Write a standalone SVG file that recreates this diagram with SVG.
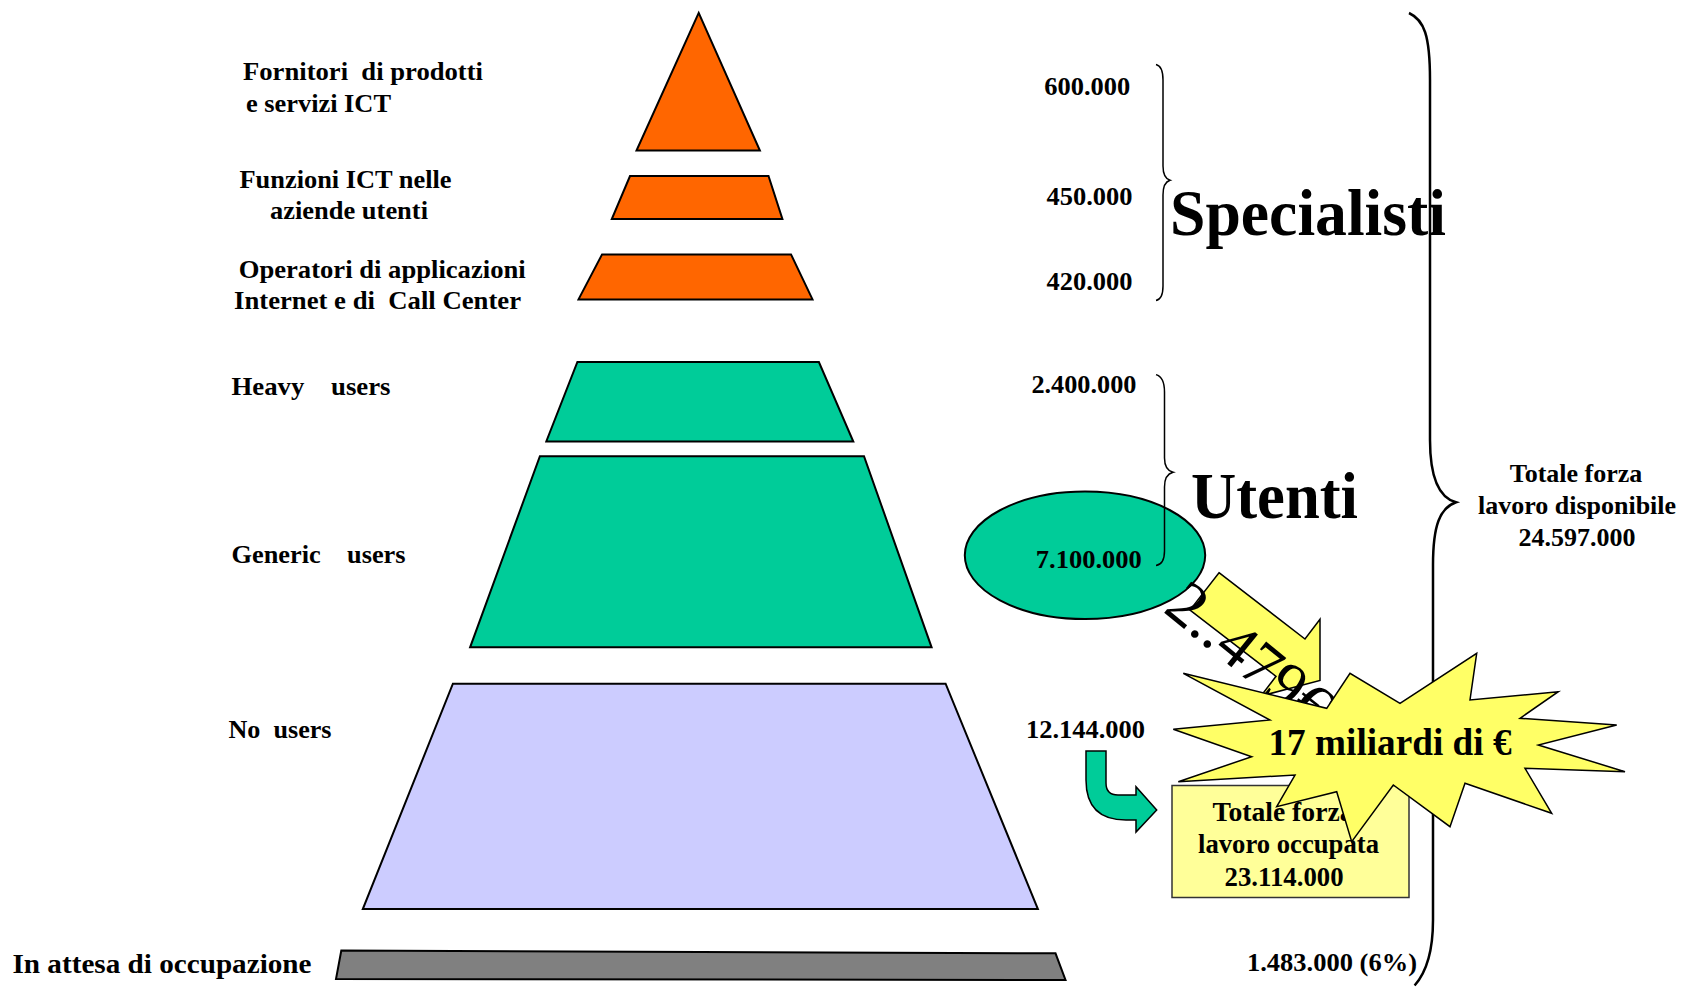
<svg xmlns="http://www.w3.org/2000/svg" width="1683" height="992" viewBox="0 0 1683 992">
<style>
.t{font-family:"Liberation Serif","Times New Roman",serif;font-weight:bold;font-size:26px;fill:#000}
.big{font-family:"Liberation Serif","Times New Roman",serif;font-weight:bold;font-size:66px;fill:#000}
.shape{stroke:#000;stroke-width:2;stroke-linejoin:miter}
.or{fill:#FF6600}
.gr{fill:#00CC99}
.pu{fill:#CCCCFF}
.gy{fill:#808080}
.brace{fill:none;stroke:#000;stroke-width:1.5}
</style>
<rect width="1683" height="992" fill="#fff"/>

<g id="layer-fornitori">
<polygon class="shape or" points="698.7,12.9 759.9,150.5 636.5,150.5"/>
<text class="t" x="243" y="80" textLength="240" lengthAdjust="spacingAndGlyphs" xml:space="preserve">Fornitori  di prodotti</text>
<text class="t" x="246" y="112" textLength="145" lengthAdjust="spacingAndGlyphs">e servizi ICT</text>
</g>

<g id="layer-funzioni">
<polygon class="shape or" points="630,176 768.5,176 782.4,219 611.8,219"/>
<text class="t" x="239.5" y="188.3" textLength="212" lengthAdjust="spacingAndGlyphs">Funzioni ICT nelle</text>
<text class="t" x="270" y="219" textLength="158" lengthAdjust="spacingAndGlyphs">aziende utenti</text>
</g>

<g id="layer-operatori">
<polygon class="shape or" points="602.1,254.4 791,254.4 812.5,299.4 578.5,299.4"/>
<text class="t" x="238.7" y="277.7" textLength="287" lengthAdjust="spacingAndGlyphs">Operatori di applicazioni</text>
<text class="t" x="234" y="309.3" textLength="287" lengthAdjust="spacingAndGlyphs" xml:space="preserve">Internet e di  Call Center</text>
</g>

<g id="layer-heavy">
<polygon class="shape gr" points="577.4,362 818.9,362 853.3,441.5 546.3,441.5"/>
<text class="t" x="231.5" y="395" textLength="159" lengthAdjust="spacingAndGlyphs" xml:space="preserve">Heavy    users</text>
</g>

<g id="layer-generic">
<polygon class="shape gr" points="539.9,456.2 864,456.2 931.6,647.3 470.1,647.3"/>
<text class="t" x="231.5" y="563" textLength="174" lengthAdjust="spacingAndGlyphs" xml:space="preserve">Generic    users</text>
</g>

<g id="layer-nousers">
<polygon class="shape pu" points="452.9,683.7 945.6,683.7 1037.9,909.1 362.8,909.1"/>
<text class="t" x="228.5" y="738" textLength="103" lengthAdjust="spacingAndGlyphs" xml:space="preserve">No  users</text>
</g>

<g id="layer-attesa">
<polygon class="shape gy" points="341.3,950.5 1055.5,953.3 1065.5,980 336,979"/>
<text class="t" x="12.5" y="972.5" style="font-size:28px" textLength="299" lengthAdjust="spacingAndGlyphs">In attesa di occupazione</text>
</g>

<g id="values">
<text class="t" x="1044.3" y="95" textLength="86" lengthAdjust="spacingAndGlyphs">600.000</text>
<text class="t" x="1046.5" y="205" textLength="86" lengthAdjust="spacingAndGlyphs">450.000</text>
<text class="t" x="1046.5" y="289.5" textLength="86" lengthAdjust="spacingAndGlyphs">420.000</text>
<text class="t" x="1031.4" y="393" textLength="105" lengthAdjust="spacingAndGlyphs">2.400.000</text>
<text class="t" x="1026" y="738.4" textLength="119" lengthAdjust="spacingAndGlyphs">12.144.000</text>
<text class="t" x="1247" y="971" textLength="170" lengthAdjust="spacingAndGlyphs">1.483.000 (6%)</text>
</g>

<g id="ellipse-generic">
<ellipse class="shape gr" cx="1085" cy="555.3" rx="120.2" ry="63.7"/>
</g>

<g id="box-occupata">
<rect x="1172" y="785.5" width="237" height="112" fill="#FFFF99" stroke="#333" stroke-width="1.5"/>
<text class="t" x="1212.5" y="821" style="font-size:27px" textLength="141" lengthAdjust="spacingAndGlyphs">Totale forza</text>
<text class="t" x="1198" y="853.3" style="font-size:27px" textLength="181" lengthAdjust="spacingAndGlyphs">lavoro occupata</text>
<text class="t" x="1224.6" y="885.6" style="font-size:27px" textLength="119" lengthAdjust="spacingAndGlyphs">23.114.000</text>
</g>

<g id="connectors">
<path class="brace" d="M1156,64.4 Q1163,66 1163,80 L1163,166 Q1163,178 1170,180.3 Q1163,182.5 1163,195 L1163,286 Q1163,299 1156,300.5"/>
<path class="brace" d="M1156,374.6 Q1164.5,377 1164.5,392 L1164.5,458 Q1164.5,470 1173,472.3 Q1164.5,474.5 1164.5,487 L1164.5,551 Q1164.5,564 1156,565.6"/>
<path fill="none" stroke="#000" stroke-width="2.5" d="M1409,13 C1424,20 1430,35 1430,80 L1430,440 C1430,480 1440,498 1456,502.3 C1440,508 1433,525 1433,565 L1433,920 C1433,955 1424,975 1414.6,985.5"/>
<polygon fill="#FFFF66" stroke="#000" stroke-width="1.5" points="1219,572.7 1305,639 1320,619.3 1320,680.4 1261,696 1276,676.3 1190,610"/>
<path fill="#00CC99" stroke="#000" stroke-width="1.5" d="M1086,751 L1106,751 L1106,783 Q1106,795 1118,795 L1136,795 L1136,786.7 L1156.7,810 L1136,832 L1136,820 L1126,820 Q1086,820 1086,780 Z"/>
</g>

<g id="labels-right">
<text class="t" x="1088.8" y="568" text-anchor="middle" textLength="106" lengthAdjust="spacingAndGlyphs">7.100.000</text>
<text class="big" x="1170" y="235" textLength="276" lengthAdjust="spacingAndGlyphs">Specialisti</text>
<text class="big" x="1191" y="517.5" textLength="167" lengthAdjust="spacingAndGlyphs">Utenti</text>
<text class="t" x="1576" y="482" text-anchor="middle">Totale forza</text>
<text class="t" x="1577" y="514" text-anchor="middle">lavoro disponibile</text>
<text class="t" x="1577" y="546" text-anchor="middle">24.597.000</text>
</g>

<g id="rotated-value">
<text transform="translate(1162,611) rotate(39)" style="font-family:'Liberation Serif','Times New Roman',serif;font-size:64px;fill:#000">2..479€</text>
</g>

<g id="starburst">
<polygon fill="#FFFF66" stroke="#000" stroke-width="1.5" points="1173.3,729.3 1270,720 1183.3,673.3 1326.7,708.3 1350,673.3 1400,703.3 1476.7,653.3 1470,700 1558.3,691.7 1520,718.3 1616.7,725 1538.3,745 1625,771.7 1525,768.3 1551.7,813.3 1465,783.3 1450,826.7 1393.3,785 1351.7,841.7 1336.7,791.7 1276.7,806.7 1295,775 1178.3,781.7 1251.7,756.7"/>
<text class="t" x="1268.5" y="755" style="font-size:37.5px" textLength="243" lengthAdjust="spacingAndGlyphs">17 miliardi di €</text>
</g>
</svg>
